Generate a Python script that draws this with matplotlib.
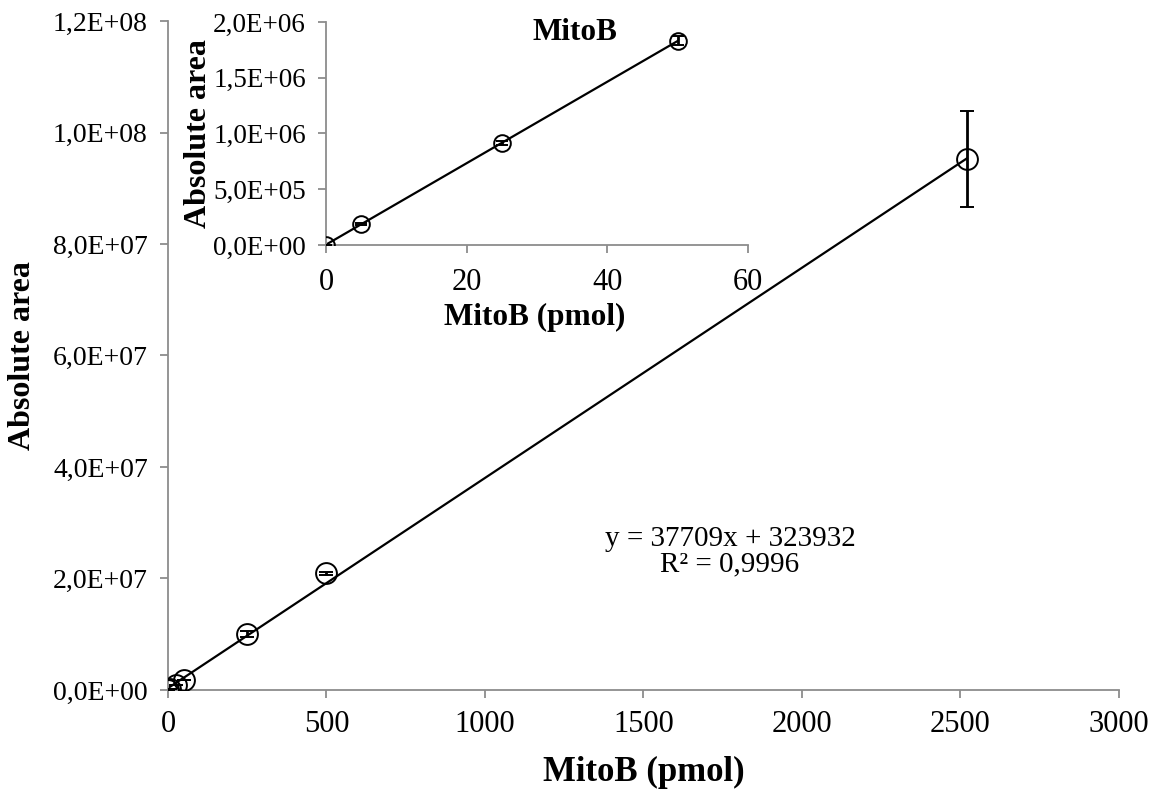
import matplotlib
matplotlib.use("Agg")
import matplotlib.pyplot as plt
import numpy as np
from matplotlib.ticker import FuncFormatter

plt.rcParams['font.family'] = ['Liberation Serif', 'DejaVu Serif']

# Main calibration data
x_main = [0, 5, 25, 50, 250, 500, 2520]
y_main = [0, 1.9e5, 9.15e5, 1.83e6, 1.0e7, 2.09e7, 9.52e7]
err_main = [0, 1e4, 2e4, 4e4, 5e5, 3e5, 8.6e6]
slope, intercept = 37709, 323932
fit_x = [0, 2520]

# Inset data
x_in = [0, 5, 25, 50]
y_in = [0, 1.9e5, 9.15e5, 1.83e6]
err_in = [0, 1e4, 2e4, 4e4]

main_xticks = [0, 500, 1000, 1500, 2000, 2500, 3000]
main_yticks = [0, 2e7, 4e7, 6e7, 8e7, 1e8, 1.2e8]
in_xticks = [0, 20, 40, 60]
in_yticks = [0, 5e5, 1e6, 1.5e6, 2e6]


def sci(v, pos=None):
    if v == 0:
        return "0,0E+00"
    e = int(np.floor(np.log10(abs(v))))
    m = v / 10**e
    return f"{m:.1f}".replace(".", ",") + f"E+{e:02d}"


def style(ax, xfs, yfs, xpad, ypad):
    for s in ['top', 'right']:
        ax.spines[s].set_visible(False)
    for s in ['left', 'bottom']:
        ax.spines[s].set_color('#8c8c8c')
        ax.spines[s].set_linewidth(1.3)
    ax.tick_params(direction='out', length=5.5, width=1.3, color='#8c8c8c',
                   labelcolor='black')
    ax.tick_params(axis='x', labelsize=xfs, pad=xpad)
    ax.tick_params(axis='y', labelsize=yfs, pad=ypad)
    ax.yaxis.set_major_formatter(FuncFormatter(sci))


fig = plt.figure(figsize=(11.61, 7.96), dpi=100)
ax = fig.add_axes([0.1447, 0.1332, 0.8191, 0.8404])
ax.plot(fit_x, [slope * v + intercept for v in fit_x], color='black', lw=1.6, zorder=2)
ax.errorbar(x_main, y_main, yerr=err_main, fmt='o', mfc='none', mec='black',
            ms=15, mew=1.4, ecolor='black', elinewidth=2, capsize=5, capthick=2, zorder=3)
ax.set_xlim(0, 3000)
ax.set_ylim(0, 1.2e8)
ax.set_xticks(main_xticks)
ax.set_yticks(main_yticks)
style(ax, 22, 20, 9, 9)
ax.set_xlabel('MitoB (pmol)', fontsize=25, fontweight='bold')
ax.xaxis.set_label_coords(0.5, -0.124)
ax.xaxis.label.set_verticalalignment('center')
ax.set_ylabel('Absolute area', fontsize=23, fontweight='bold')
ax.yaxis.set_label_coords(-0.1535, 0.5)
ax.yaxis.label.set_verticalalignment('center')
ax.text(1773, 2.48e7, 'y = 37709x + 323932\nR² = 0,9996', fontsize=21,
        ha='center', va='center', linespacing=1.0)

# Inset
ax2 = fig.add_axes([0.2808, 0.6922, 0.3635, 0.2802])
s2, i2 = np.polyfit(x_in, y_in, 1)
ax2.plot([0, 50], [i2, s2 * 50 + i2], color='black', lw=1.6, zorder=2)
ax2.errorbar(x_in, y_in, yerr=err_in, fmt='o', mfc='none', mec='black',
             ms=12, mew=1.4, ecolor='black', elinewidth=2, capsize=4, capthick=2, zorder=3)
ax2.set_xlim(0, 60)
ax2.set_ylim(0, 2e6)
ax2.set_xticks(in_xticks)
ax2.set_yticks(in_yticks)
style(ax2, 22, 19.5, 11, 9)
ax2.set_xlabel('MitoB (pmol)', fontsize=22.5, fontweight='bold')
ax2.xaxis.set_label_coords(0.494, -0.327)
ax2.xaxis.label.set_verticalalignment('center')
ax2.set_ylabel('Absolute area', fontsize=23, fontweight='bold')
ax2.yaxis.set_label_coords(-0.301, 0.5)
ax2.yaxis.label.set_verticalalignment('center')
ax2.text(0.59, 0.955, 'MitoB', transform=ax2.transAxes, fontsize=22.5,
         fontweight='bold', ha='center', va='center')
ax2.patch.set_alpha(0)

fig.savefig('out.png', dpi=100)
